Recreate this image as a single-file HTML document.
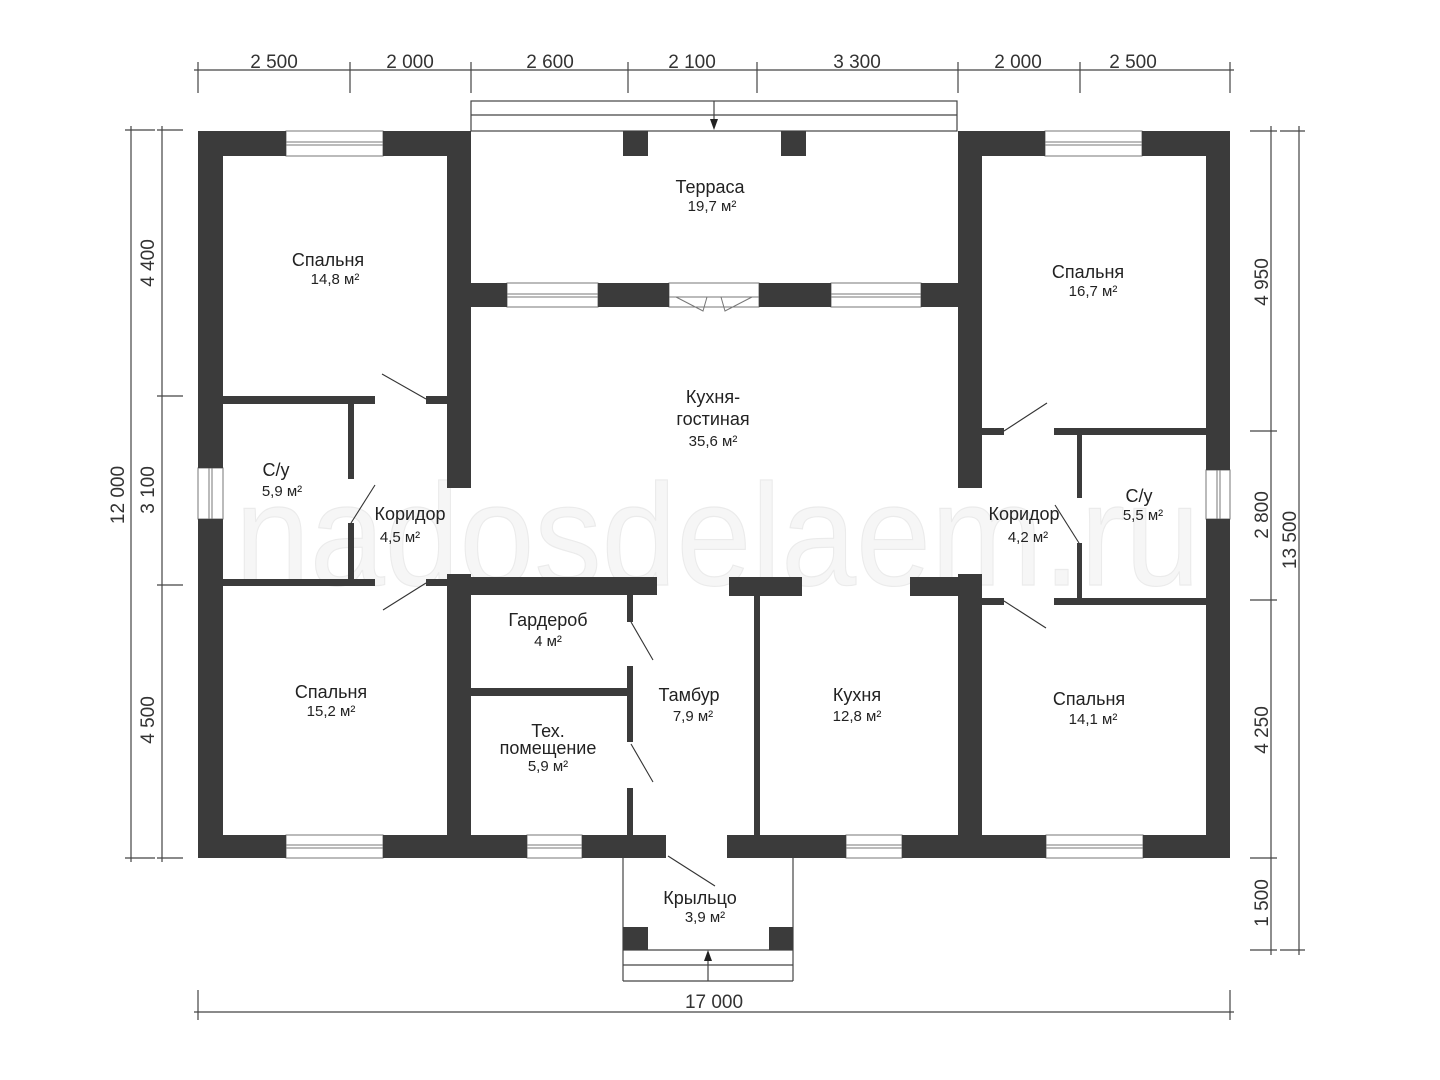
<!DOCTYPE html>
<html><head><meta charset="utf-8"><style>
html,body{margin:0;padding:0;background:#fff}
svg{display:block}
text{font-family:"Liberation Sans",sans-serif;fill:#222}
.r{font-size:18px}
.a{font-size:15px}
.d{font-size:19px;fill:#333}
</style></head><body>
<svg width="1440" height="1080" viewBox="0 0 1440 1080" xmlns="http://www.w3.org/2000/svg">
<rect width="1440" height="1080" fill="#fff"/>
<!-- watermark -->
<text x="235" y="585" textLength="965" lengthAdjust="spacingAndGlyphs" style="font-size:145px;fill:#f6f6f6;stroke:#ebebeb;stroke-width:1.2">nadosdelaem.ru</text>

<!-- dimension lines -->
<g stroke="#444" stroke-width="1.2" fill="none">
<line x1="194" y1="70" x2="1234" y2="70"/>
<g>
<line x1="198" y1="62" x2="198" y2="93"/><line x1="350" y1="62" x2="350" y2="93"/><line x1="471" y1="62" x2="471" y2="93"/><line x1="628" y1="62" x2="628" y2="93"/><line x1="757" y1="62" x2="757" y2="93"/><line x1="958" y1="62" x2="958" y2="93"/><line x1="1080" y1="62" x2="1080" y2="93"/><line x1="1230" y1="62" x2="1230" y2="93"/>
</g>
<line x1="131" y1="126" x2="131" y2="862"/>
<line x1="162" y1="126" x2="162" y2="862"/>
<line x1="125" y1="130" x2="155" y2="130"/><line x1="157" y1="130" x2="183" y2="130"/>
<line x1="157" y1="396" x2="183" y2="396"/><line x1="157" y1="585" x2="183" y2="585"/>
<line x1="125" y1="858" x2="155" y2="858"/><line x1="157" y1="858" x2="183" y2="858"/>
<line x1="1271" y1="126" x2="1271" y2="955"/>
<line x1="1299" y1="126" x2="1299" y2="955"/>
<line x1="1250" y1="131" x2="1277" y2="131"/><line x1="1280" y1="131" x2="1305" y2="131"/>
<line x1="1250" y1="431" x2="1277" y2="431"/><line x1="1250" y1="600" x2="1277" y2="600"/>
<line x1="1250" y1="858" x2="1277" y2="858"/>
<line x1="1250" y1="950" x2="1277" y2="950"/><line x1="1280" y1="950" x2="1305" y2="950"/>
<line x1="194" y1="1012" x2="1234" y2="1012"/>
<line x1="198" y1="990" x2="198" y2="1020"/><line x1="1230" y1="990" x2="1230" y2="1020"/>
</g>
<g class="d" text-anchor="middle">
<text x="274" y="68" class="d">2 500</text><text x="410" y="68" class="d">2 000</text><text x="550" y="68" class="d">2 600</text><text x="692" y="68" class="d">2 100</text><text x="857" y="68" class="d">3 300</text><text x="1018" y="68" class="d">2 000</text><text x="1133" y="68" class="d">2 500</text>
<text x="714" y="1008" class="d">17 000</text>
<text class="d" transform="translate(154,263) rotate(-90)">4 400</text>
<text class="d" transform="translate(154,490) rotate(-90)">3 100</text>
<text class="d" transform="translate(154,720) rotate(-90)">4 500</text>
<text class="d" transform="translate(124,495) rotate(-90)">12 000</text>
<text class="d" transform="translate(1268,282) rotate(-90)">4 950</text>
<text class="d" transform="translate(1268,515) rotate(-90)">2 800</text>
<text class="d" transform="translate(1268,730) rotate(-90)">4 250</text>
<text class="d" transform="translate(1268,903) rotate(-90)">1 500</text>
<text class="d" transform="translate(1296,540) rotate(-90)">13 500</text>
</g>

<!-- terrace steps -->
<g stroke="#444" stroke-width="1.2" fill="none">
<rect x="471" y="101" width="486" height="30"/>
<line x1="471" y1="115" x2="957" y2="115"/>
<line x1="714" y1="101" x2="714" y2="126"/>
<!-- porch -->
<line x1="623" y1="858" x2="623" y2="981"/>
<line x1="793" y1="858" x2="793" y2="981"/>
<line x1="623" y1="950" x2="793" y2="950"/>
<line x1="623" y1="965" x2="793" y2="965"/>
<line x1="623" y1="981" x2="793" y2="981"/>
<line x1="708" y1="981" x2="708" y2="956"/>
</g>
<polygon points="714,130 710,119 718,119" fill="#222"/>
<polygon points="708,950 704,961 712,961" fill="#222"/>

<!-- windows -->
<g fill="#fff" stroke="#777" stroke-width="1">
<rect x="286" y="131" width="97" height="25"/><rect x="1045" y="131" width="97" height="25"/>
<rect x="507" y="283" width="91" height="24"/><rect x="831" y="283" width="90" height="24"/>
<rect x="669" y="283" width="90" height="24"/>
<rect x="286" y="835" width="97" height="23"/><rect x="527" y="835" width="55" height="23"/>
<rect x="846" y="835" width="56" height="23"/><rect x="1046" y="835" width="97" height="23"/>
<rect x="198" y="468" width="25" height="51"/><rect x="1206" y="470" width="24" height="49"/>
</g>
<g stroke="#777" stroke-width="1" fill="none">
<line x1="286" y1="142" x2="383" y2="142"/><line x1="286" y1="145" x2="383" y2="145"/>
<line x1="1045" y1="142" x2="1142" y2="142"/><line x1="1045" y1="145" x2="1142" y2="145"/>
<line x1="507" y1="294" x2="598" y2="294"/><line x1="507" y1="297" x2="598" y2="297"/>
<line x1="831" y1="294" x2="921" y2="294"/><line x1="831" y1="297" x2="921" y2="297"/>
<line x1="286" y1="845" x2="383" y2="845"/><line x1="286" y1="848" x2="383" y2="848"/>
<line x1="527" y1="845" x2="582" y2="845"/><line x1="527" y1="848" x2="582" y2="848"/>
<line x1="846" y1="845" x2="902" y2="845"/><line x1="846" y1="848" x2="902" y2="848"/>
<line x1="1046" y1="845" x2="1143" y2="845"/><line x1="1046" y1="848" x2="1143" y2="848"/>
<line x1="209" y1="468" x2="209" y2="519"/><line x1="212" y1="468" x2="212" y2="519"/>
<line x1="1217" y1="470" x2="1217" y2="519"/><line x1="1220" y1="470" x2="1220" y2="519"/>
<line x1="669" y1="297" x2="759" y2="297"/>
<polyline points="676,297 703,311 707,297"/><polyline points="752,297 725,311 721,297"/>
</g>

<!-- walls -->
<g fill="#3b3b3b">
<rect x="198" y="131" width="88" height="25"/><rect x="383" y="131" width="88" height="25"/>
<rect x="198" y="131" width="25" height="337"/><rect x="198" y="519" width="25" height="339"/>
<rect x="447" y="131" width="24" height="357"/>
<rect x="223" y="396" width="152" height="8"/><rect x="426" y="396" width="21" height="8"/>
<rect x="348" y="404" width="6" height="75"/>
<rect x="223" y="579" width="152" height="7"/><rect x="348" y="523" width="6" height="56"/>
<rect x="426" y="579" width="21" height="7"/>
<rect x="447" y="574" width="24" height="284"/>
<rect x="471" y="577" width="186" height="18"/>
<rect x="627" y="595" width="6" height="27"/><rect x="627" y="666" width="6" height="76"/>
<rect x="471" y="688" width="156" height="8"/><rect x="627" y="788" width="6" height="47"/>
<rect x="198" y="835" width="88" height="23"/><rect x="383" y="835" width="144" height="23"/>
<rect x="582" y="835" width="84" height="23"/><rect x="727" y="835" width="119" height="23"/>
<rect x="902" y="835" width="144" height="23"/><rect x="1143" y="835" width="87" height="23"/>
<rect x="729" y="577" width="73" height="19"/><rect x="754" y="596" width="6" height="239"/>
<rect x="910" y="577" width="48" height="19"/><rect x="958" y="574" width="24" height="284"/>
<rect x="958" y="131" width="87" height="25"/><rect x="1142" y="131" width="88" height="25"/>
<rect x="958" y="131" width="24" height="357"/>
<rect x="1206" y="131" width="24" height="339"/><rect x="1206" y="519" width="24" height="339"/>
<rect x="982" y="428" width="22" height="7"/><rect x="1054" y="428" width="152" height="7"/>
<rect x="1077" y="435" width="5" height="63"/><rect x="1077" y="543" width="5" height="55"/>
<rect x="982" y="598" width="22" height="7"/><rect x="1054" y="598" width="152" height="7"/>
<rect x="471" y="283" width="36" height="24"/><rect x="598" y="283" width="71" height="24"/>
<rect x="759" y="283" width="72" height="24"/><rect x="921" y="283" width="37" height="24"/>
<rect x="623" y="131" width="25" height="25"/><rect x="781" y="131" width="25" height="25"/>
<rect x="623" y="927" width="25" height="23"/><rect x="769" y="927" width="24" height="23"/>
</g>

<!-- door swings -->
<g stroke="#333" stroke-width="1.1" fill="none">
<line x1="426" y1="399" x2="382" y2="374"/>
<line x1="351" y1="523" x2="375" y2="485"/>
<line x1="426" y1="583" x2="383" y2="610"/>
<line x1="631" y1="622" x2="653" y2="660"/>
<line x1="631" y1="744" x2="653" y2="782"/>
<line x1="668" y1="856" x2="715" y2="886"/>
<line x1="1004" y1="431" x2="1047" y2="403"/>
<line x1="1004" y1="601" x2="1046" y2="628"/>
<line x1="1079" y1="543" x2="1055" y2="505"/>
</g>

<!-- labels -->
<g text-anchor="middle">
<text x="710" y="193" class="r">Терраса</text><text x="712" y="211" class="a">19,7 м²</text>
<text x="328" y="266" class="r">Спальня</text><text x="335" y="284" class="a">14,8 м²</text>
<text x="1088" y="278" class="r">Спальня</text><text x="1093" y="296" class="a">16,7 м²</text>
<text x="713" y="403" class="r">Кухня-</text><text x="713" y="425" class="r">гостиная</text><text x="713" y="446" class="a">35,6 м²</text>
<text x="276" y="476" class="r">С/у</text><text x="282" y="496" class="a">5,9 м²</text>
<text x="410" y="520" class="r">Коридор</text><text x="400" y="542" class="a">4,5 м²</text>
<text x="1024" y="520" class="r">Коридор</text><text x="1028" y="542" class="a">4,2 м²</text>
<text x="1139" y="502" class="r">С/у</text><text x="1143" y="520" class="a">5,5 м²</text>
<text x="548" y="626" class="r">Гардероб</text><text x="548" y="646" class="a">4 м²</text>
<text x="689" y="701" class="r">Тамбур</text><text x="693" y="721" class="a">7,9 м²</text>
<text x="857" y="701" class="r">Кухня</text><text x="857" y="721" class="a">12,8 м²</text>
<text x="331" y="698" class="r">Спальня</text><text x="331" y="716" class="a">15,2 м²</text>
<text x="1089" y="705" class="r">Спальня</text><text x="1093" y="724" class="a">14,1 м²</text>
<text x="548" y="737" class="r">Тех.</text><text x="548" y="754" class="r">помещение</text><text x="548" y="771" class="a">5,9 м²</text>
<text x="700" y="904" class="r">Крыльцо</text><text x="705" y="922" class="a">3,9 м²</text>
</g>
</svg>
</body></html>
